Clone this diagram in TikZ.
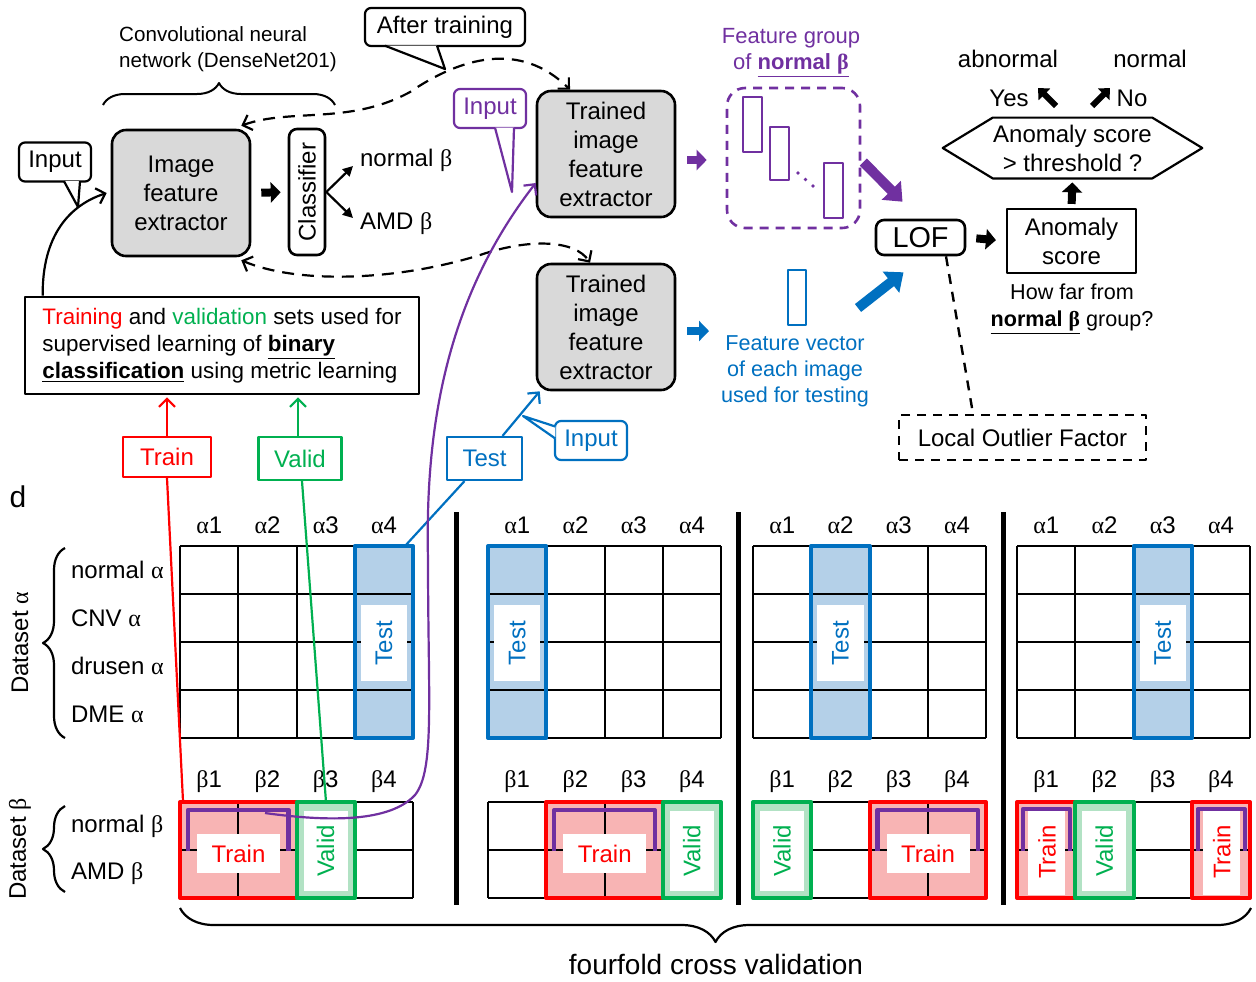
\documentclass[tikz,border=0pt]{standalone}
\usepackage{fontspec}
\setmainfont{Liberation Sans}
\newfontfamily\grkfont{Liberation Serif}
\usetikzlibrary{arrows.meta,decorations.pathreplacing,positioning}

\definecolor{cvpurple}{RGB}{112,48,160}
\definecolor{cvblue}{RGB}{0,112,192}
\definecolor{cvgreen}{RGB}{0,176,80}
\definecolor{boxgray}{RGB}{217,217,217}
\definecolor{testfill}{RGB}{180,208,232}
\definecolor{trainfill}{RGB}{248,180,180}
\definecolor{validfill}{RGB}{178,226,196}

\newcommand{\al}{{\grkfont α}}
\newcommand{\be}{{\grkfont β}}

\begin{document}
\begin{tikzpicture}[x=0.5pt,y=-0.5pt,>={Straight Barb[length=4pt,width=8pt]},line join=round,
  every node/.style={font=\fontsize{12}{14.5}\selectfont}]
  \tikzset{fe box/.style={draw,line width=1.3pt,rounded corners=7pt,fill=boxgray,align=center,
      minimum width=69pt,minimum height=63pt,inner sep=1pt},
    call box/.style={draw,line width=1.1pt,rounded corners=3pt,fill=white,minimum width=36pt,
      minimum height=19.5pt,inner sep=1pt},
    tag box/.style={draw,line width=1.1pt,inner sep=1pt},
    fat/.style={line width=4pt,-{Triangle[length=5pt,width=10pt]}},
    small fat/.style={line width=3pt,-{Triangle[length=4.5pt,width=8pt]}},
    big fat/.style={line width=5pt,-{Triangle[length=8pt,width=13pt]}},
    thin arrow/.style={line width=1.1pt,->},
    solid arrow/.style={line width=1.1pt,-{Triangle[length=5pt,width=5pt]}},
    cell line/.style={line width=1pt}}
  \useasboundingbox (0,0) rectangle (1256,981);

  % network and classifier
  \node[align=left,font=\fontsize{10.3}{13}\selectfont] (cnn) at (228,49) {Convolutional neural\\network (DenseNet201)};
  \draw[decorate,decoration={brace,amplitude=11pt},line width=1pt] (103,105) -- (335,105);
  \node[fe box] (ife) at (181,193) {Image\\feature\\extractor};
  \node[draw,line width=1.3pt,rounded corners=4pt,minimum width=63pt,minimum height=18pt,inner sep=0pt,rotate=90] (cls) at (307,192) {Classifier};
  \draw[fat,shorten <=5pt,shorten >=3.5pt] (ife.east) -- (cls.north);
  \node[anchor=west] (nb) at (353,160) {normal \be};
  \node[anchor=west] (ab) at (353,224) {AMD \be};
  \draw[solid arrow] (cls.south) -- ([xshift=0pt,yshift=-3pt]nb.west);
  \draw[solid arrow] (cls.south) -- ([xshift=0pt,yshift=3pt]ab.west);

  \node[call box] (inK) at (55,162) {Input};
  \draw[line width=1.1pt,fill=white] ([xshift=4.5pt,yshift=0.7pt]inK.south) -- (78,207) -- ([xshift=12.5pt,yshift=0.7pt]inK.south);

  \node[draw,line width=1.3pt,align=left,minimum width=197pt,minimum height=48.5pt,font=\fontsize{11.2}{13.5}\selectfont] (trn) at (222,345.5)
    {{\color{red}Training} and {\color{cvgreen}validation} sets used for\\supervised learning of \textbf{\underline{binary}}\\\textbf{\underline{classification}} using metric learning};
  \draw[thin arrow] ([xshift=9.5pt]trn.north west) .. controls (42,235) and (70,205) .. ([xshift=-2pt]ife.west);

  % trained extractors
  \node[fe box] (tr1) at (606,154) {Trained\\image\\feature\\extractor};
  \node[fe box] (tr2) at (606,327) {Trained\\image\\feature\\extractor};

  % after training
  \draw[thin arrow,<->,dash pattern=on 6pt off 4pt] ([xshift=-5pt,yshift=1.5pt]ife.north east) .. controls (290,108) and (350,125) .. (410,92)
    .. controls (460,58) and (520,40) .. ([xshift=-18pt]tr1.north);
  \draw[thin arrow,<->,dash pattern=on 6pt off 4pt] ([xshift=-5pt,yshift=-1.5pt]ife.south east) .. controls (300,285) and (400,280) .. (480,255)
    .. controls (530,238) and (575,240) .. ([xshift=-8pt]tr2.north);
  \node[call box,minimum width=80pt,minimum height=19pt] (aft) at (445,27) {After training};
  \draw[line width=1.1pt,fill=white] ([xshift=-30pt,yshift=0.7pt]aft.south) -- (445,69) -- ([xshift=-4pt,yshift=0.7pt]aft.south);

  \node[call box,draw=cvpurple,text=cvpurple] (inP) at (490,108.5) {Input};
  \draw[cvpurple,line width=1.1pt,fill=white] ([xshift=2.5pt,yshift=0.7pt]inP.south) -- (512,192) -- ([xshift=12pt,yshift=0.7pt]inP.south);

  \node[draw=cvpurple,dash pattern=on 4.5pt off 3.5pt,line width=1.3pt,rounded corners=9pt,minimum width=66.5pt,minimum height=70pt] (fg) at (793.5,158) {};
  \draw[cvpurple,line width=1.3pt] (743,97) rectangle (762,152) (770,127) rectangle (789,180) (824,163) rectangle (843,218);
  \foreach \d in {0,1,2} \fill[cvpurple] (798+7.5*\d,173+6.5*\d) circle (0.9pt);
  \node[cvpurple,align=center,font=\fontsize{11}{13}\selectfont] (fgt) at (791,53) {Feature group\\of \textbf{\underline{normal \be}}};
  \draw[fat,cvpurple,shorten <=5.5pt,shorten >=9.5pt] ([yshift=-3pt]tr1.east) -- ([yshift=-1pt]fg.west);

  \coordinate (fvin) at (709,331);
  \draw[fat,cvblue,shorten <=5.5pt] ([yshift=-2pt]tr2.east) -- (fvin);
  \node[draw=cvblue,line width=1.3pt,minimum width=9pt,minimum height=27.5pt,inner sep=0pt] (fv) at (797,297.5) {};
  \node[cvblue,align=center,font=\fontsize{10.8}{13}\selectfont] (fvt) at (795,371) {Feature vector\\of each image\\used for testing};

  % LOF and score
  \node[draw,line width=1.3pt,rounded corners=4pt,minimum width=44.5pt,minimum height=17.5pt,inner sep=0pt,font=\fontsize{14.4}{16}\selectfont] (lof) at (920.5,237.5) {LOF};
  \draw[big fat,cvpurple] ([xshift=1pt,yshift=-2pt]fg.east) -- ([xshift=-9pt,yshift=8.5pt]lof.north);
  \coordinate (fvtop) at (858,308);
  \draw[big fat,cvblue] (fvtop) -- ([xshift=-8.5pt,yshift=-8pt]lof.south);
  \node[draw,line width=1.1pt,minimum width=64.5pt,minimum height=32pt,inner sep=0pt,align=center] (anom) at (1071.5,241) {Anomaly\\score};
  \draw[fat,shorten <=5pt,shorten >=5pt] (lof.east) -- (anom.west);
  \node[align=center,font=\fontsize{10.8}{13.5}\selectfont] (hfar) at (1072,309) {How far from\\\textbf{\underline{normal \be}} group?};
  \node[minimum width=76.5pt,minimum height=30pt,inner sep=0pt,align=center] (thr) at (1072.5,148) {Anomaly score\\> threshold ?};
  \draw[line width=1.1pt] ([xshift=-25pt]thr.west) -- (thr.north west) -- (thr.north east) -- ([xshift=25pt]thr.east)
    -- (thr.south east) -- (thr.south west) -- cycle;
  \draw[fat,shorten <=2pt,shorten >=2pt] (anom.north) -- (thr.south);
  \node (yes) at (1009,98) {Yes};
  \node (no) at (1132,98) {No};
  \node (abn) at (1008,59) {abnormal};
  \node (nrm) at (1150,59) {normal};
  \coordinate (yesT) at (1056,106);
  \coordinate (yesH) at (1038,88);
  \coordinate (noT) at (1092,106);
  \coordinate (noH) at (1110,88);
  \draw[small fat] (yesT) -- (yesH);
  \draw[small fat] (noT) -- (noH);
  \node[draw,dash pattern=on 4.5pt off 3.5pt,line width=1.2pt,minimum width=123.5pt,minimum height=22.5pt] (lofull) at (1022.5,437.5) {Local Outlier Factor};
  \draw[line width=1.2pt,dash pattern=on 5pt off 4pt] ([xshift=12.75pt]lof.south) -- ([xshift=-24.75pt]lofull.north);

  % fourfold cross validation
  \node[font=\fontsize{15}{16}\selectfont] (dlab) at (18,497) {d};
  \foreach \X/\k in {180/3,488/0,753/1,1017/2}
    \fill[testfill] (\X+\k*58.25,546) rectangle ++(58.25,192);
  \foreach \X/\k/\n in {180/0/2,488/1/2,753/2/2,1017/0/1,1017/3/1}
    \fill[trainfill] (\X+\k*58.25,802) rectangle ++(\n*58.25,96);
  \foreach \X in {180,488,753,1017} {
    \foreach \i in {0,...,4} {
      \draw[cell line] (\X+\i*58.25,546) -- (\X+\i*58.25,738);
      \draw[cell line] (\X,546+\i*48) -- (\X+233,546+\i*48);
      \draw[cell line] (\X+\i*58.25,802) -- (\X+\i*58.25,898);
    }
    \foreach \j in {0,1,2} \draw[cell line] (\X,802+\j*48) -- (\X+233,802+\j*48);
    \foreach \i in {1,...,4} {
      \node (a-\X-\i) at (\X+\i*58.25-29,525) {\al\i};
      \node (b-\X-\i) at (\X+\i*58.25-29,782) {\be\i};
    }
  }
  \foreach \X/\k in {180/3,488/0,753/1,1017/2} {
    \fill[white] (\X+\k*58.25+6,605) rectangle (\X+\k*58.25+52.25,681);
    \node[cvblue,rotate=90] (tst-\X) at (\X+\k*58.25+29.125,643) {Test};
    \draw[cvblue,line width=2pt] (\X+\k*58.25,546) rectangle ++(58.25,192);
  }
  \foreach \X/\k/\n in {180/0/2,488/1/2,753/2/2,1017/0/1,1017/3/1} {
    \ifnum\n=2\relax
      \fill[white] (\X+\k*58.25+17,834) rectangle (\X+\k*58.25+100,873);
      \node[red] (trn-\X-\k) at (\X+\k*58.25+58.5,853.5) {Train};
      \draw[cvpurple,line width=2.2pt] (\X+\k*58.25+8,851) |- (\X+\k*58.25+108.5,810) -- (\X+\k*58.25+108.5,851);
    \else
      \fill[white] (\X+\k*58.25+11,810) rectangle (\X+\k*58.25+48,895);
      \node[red,rotate=90] (trn-\X-\k) at (\X+\k*58.25+30,852) {Train};
      \draw[cvpurple,line width=2.2pt] (\X+\k*58.25+6,851) |- (\X+\k*58.25+53,809) -- (\X+\k*58.25+53,851);
    \fi
    \draw[red,line width=2pt] (\X+\k*58.25,802) rectangle ++(\n*58.25,96);
  }
  \foreach \X/\k in {180/2,488/3,753/0,1017/1} {
    \fill[validfill] (\X+\k*58.25,802) rectangle ++(58.25,96);
    \fill[white] (\X+\k*58.25+7,811) rectangle (\X+\k*58.25+51,891);
    \node[cvgreen,rotate=90] (vld-\X) at (\X+\k*58.25+29,851) {Valid};
    \draw[cvgreen,line width=2pt] (\X+\k*58.25,802) rectangle ++(58.25,96);
  }
  \foreach \sx in {456,738,1003} \draw[line width=2.5pt] (\sx,512) -- (\sx,905);
  \foreach \r/\txt in {0/normal \al,1/CNV \al,2/drusen \al,3/DME \al}
    \node[anchor=west] (ra-\r) at (64,570+\r*48) {\txt};
  \foreach \r/\txt in {0/normal \be,1/AMD \be}
    \node[anchor=west] (rb-\r) at (64,826+\r*48) {\txt};
  \draw[decorate,decoration={brace,amplitude=11pt},line width=1.1pt] (65,738) -- (65,548);
  \draw[decorate,decoration={brace,amplitude=11pt},line width=1.1pt] (65,892) -- (65,806);
  \node[rotate=90] (dsa) at (20,643) {Dataset \al};
  \node[rotate=90] (dsb) at (20,849) {Dataset \be};
  \draw[decorate,decoration={brace,amplitude=17pt},line width=1.1pt] (1251,908) -- (180,908);
  \node[font=\fontsize{14}{16}\selectfont] (ffcv) at (716,964) {fourfold cross validation};

  % train / valid / test tags
  \node[tag box,draw=red,text=red,minimum width=44pt,minimum height=20pt] (trl) at (167,457) {Train};
  \node[tag box,draw=cvgreen,text=cvgreen,minimum width=41.5pt,minimum height=21.5pt] (val) at (300,458.5) {Valid};
  \node[tag box,draw=cvblue,text=cvblue,minimum width=37.5pt,minimum height=21.5pt] (tsl) at (484.5,458.5) {Test};
  \draw[thin arrow,red,shorten >=1pt] (trl.north) -- (trl.north |- trn.south);
  \draw[thin arrow,cvgreen,shorten >=1pt] ([xshift=-1pt]val.north) -- ([xshift=-1pt]val.north |- trn.south);
  \draw[thin arrow,cvblue] ([xshift=9pt]tsl.north) -- ([xshift=2pt]tr2.south west);
  \node[call box,draw=cvblue,text=cvblue] (inB) at (591,440.5) {Input};
  \draw[cvblue,line width=1.1pt,fill=white] ([xshift=0.7pt,yshift=7pt]inB.west) -- (523,416) -- ([xshift=0.7pt,yshift=1pt]inB.west);

  \coordinate (trainA) at (183,801);
  \coordinate (validA) at (326,802);
  \coordinate (testA) at (405,546);
  \coordinate (purpA) at (265,813);
  \draw[red,line width=1.1pt] (trl.south) -- (trainA);
  \draw[cvgreen,line width=1.1pt] ([xshift=1pt]val.south) -- (validA);
  \draw[cvblue,line width=1.1pt] ([xshift=-10pt]tsl.south) -- (testA);
  \draw[thin arrow,cvpurple] (purpA) .. controls (330,822) and (390,822) .. (415,795)
    .. controls (435,770) and (428,700) .. (428,560)
    .. controls (425,430) and (445,300) .. ([yshift=-14.5pt]tr1.west);
\end{tikzpicture}
\end{document}
